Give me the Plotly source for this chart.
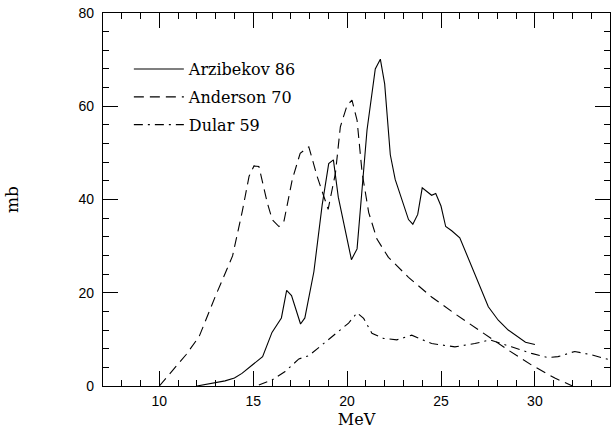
import plotly.graph_objects as go

# Arzibekov 86 (solid)
arz_x = [12.0, 13.0, 13.5, 14.0, 14.4, 14.95, 15.5, 16.0, 16.5, 16.78, 17.04, 17.52, 17.75, 18.23, 18.67, 19.02, 19.27, 19.53, 19.91, 20.23, 20.53, 21.06, 21.5, 21.77, 22.0, 22.3, 22.56, 23.27, 23.5, 23.76, 24.0, 24.5, 24.72, 25.0, 25.25, 25.57, 26.0, 26.54, 27.52, 28.05, 28.58, 29.5, 30.0]
arz_y = [0.0, 0.7, 1.1, 1.7, 2.7, 4.5, 6.3, 11.5, 14.6, 20.5, 19.4, 13.3, 14.6, 24.5, 38.8, 47.7, 48.5, 40.5, 32.9, 27.1, 29.4, 54.9, 68.0, 70.1, 64.8, 49.6, 44.3, 35.7, 34.7, 36.8, 42.5, 40.9, 41.3, 38.6, 34.2, 33.3, 31.8, 26.5, 17.0, 14.1, 12.0, 9.4, 8.9]

# Anderson 70 (dashed)
and_x = [10.0, 11.42, 12.12, 13.0, 13.9, 14.42, 14.78, 15.04, 15.3, 15.75, 16.01, 16.37, 16.64, 17.08, 17.5, 17.96, 18.4, 18.85, 18.99, 19.38, 19.64, 20.0, 20.26, 20.53, 20.8, 21.15, 21.59, 22.2, 23.27, 24.5, 25.74, 27.16, 28.58, 29.82, 31.06, 32.0]
and_y = [0.0, 6.7, 10.6, 19.4, 27.9, 37.5, 45.0, 47.2, 47.1, 39.3, 35.7, 34.2, 35.4, 44.3, 49.9, 51.3, 45.0, 39.3, 37.9, 45.7, 55.6, 60.2, 61.3, 57.0, 45.7, 37.2, 31.5, 27.6, 23.3, 19.1, 15.5, 11.6, 7.7, 4.5, 1.7, 0.0]

# Dular 59 (dash-dot)
dul_x = [15.3, 16.0, 16.7, 17.43, 17.96, 19.02, 20.08, 20.53, 20.88, 21.32, 21.94, 22.65, 23.44, 24.5, 25.74, 26.8, 27.6, 28.75, 29.82, 30.7, 31.23, 32.12, 33.0, 34.0]
dul_y = [0.2, 1.3, 3.1, 5.8, 6.5, 9.9, 13.5, 15.7, 14.5, 11.3, 10.2, 9.9, 10.9, 9.1, 8.4, 9.1, 9.9, 8.4, 7.0, 6.1, 6.3, 7.4, 6.7, 5.6]

x_ticks = [10, 15, 20, 25, 30]
y_ticks = [0, 20, 40, 60, 80]

fig = go.Figure()
fig.add_trace(go.Scatter(x=arz_x, y=arz_y, mode="lines", name="Arzibekov 86", legendgroup="a",
                         line=dict(color="black", width=1.1)))
fig.add_trace(go.Scatter(x=and_x, y=and_y, mode="lines", name="Anderson 70", legendgroup="b",
                         line=dict(color="black", width=1.1, dash="10px,6px")))
fig.add_trace(go.Scatter(x=dul_x, y=dul_y, mode="lines", name="Dular 59", legendgroup="c",
                         line=dict(color="black", width=1.1, dash="9px,5px,2px,5px")))

axis_common = dict(
    showgrid=False, zeroline=False, showline=True, linecolor="black", linewidth=1.2,
    mirror="ticks", ticks="inside", ticklen=15, tickwidth=1.1, tickcolor="black",
    tickfont=dict(family="Liberation Sans, Arial, sans-serif", size=14, color="black"),
)

fig.update_xaxes(range=[7, 34], tickvals=x_ticks, ticktext=[str(v) for v in x_ticks],
                 minor=dict(dtick=1, tick0=0, ticks="inside", ticklen=6, tickwidth=1, tickcolor="black"),
                 title=dict(text="MeV", font=dict(family="DejaVu Serif, serif", size=16, color="black"), standoff=7),
                 ticklabelstandoff=2,
                 **axis_common)
fig.update_yaxes(range=[0, 80], tickvals=y_ticks, ticktext=[str(v) for v in y_ticks],
                 minor=dict(dtick=4, tick0=0, ticks="inside", ticklen=6, tickwidth=1, tickcolor="black"),
                 title=dict(text="mb", font=dict(family="DejaVu Serif, serif", size=17, color="black"), standoff=55),
                 ticklabelstandoff=5,
                 **axis_common)

fig.update_layout(
    width=613, height=429,
    margin=dict(l=103, r=2, t=13, b=41),
    plot_bgcolor="white", paper_bgcolor="white",
    showlegend=True,
    legend=dict(x=0.051, y=0.895, xanchor="left", yanchor="top",
                bgcolor="rgba(0,0,0,0)", borderwidth=0, traceorder="grouped",
                font=dict(family="DejaVu Serif, serif", size=16, color="black"),
                tracegroupgap=4, itemwidth=50),
)

fig.write_html("out.html")
